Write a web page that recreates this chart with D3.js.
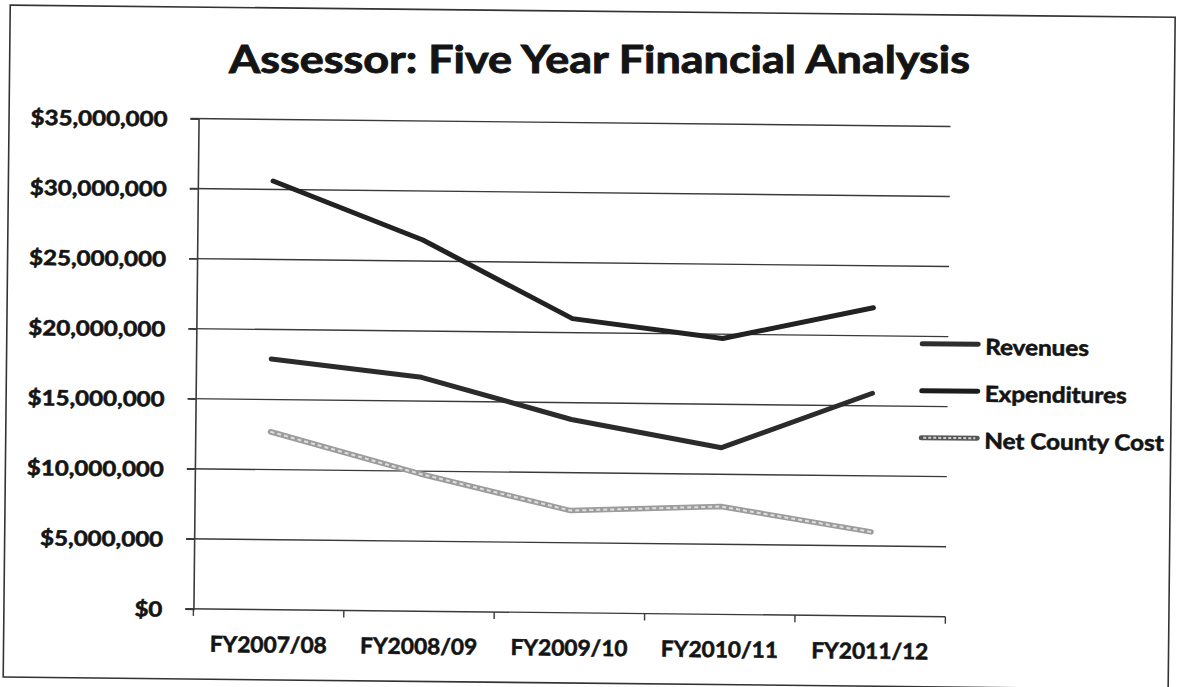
<!DOCTYPE html>
<html>
<head>
<meta charset="utf-8">
<script src="https://cdn.jsdelivr.net/npm/d3@7/dist/d3.min.js"></script>
<style>
  html, body { margin: 0; padding: 0; background: #fff; }
  svg { display: block; }
  text { font-family: "Lato", "Open Sans", sans-serif; font-weight: 700; fill: #141414; stroke: #141414; stroke-width: 0.6px; }
</style>
</head>
<body>
<svg id="chart" width="1177" height="687"></svg>
<script>
// ---- data ----
const title = "Assessor: Five Year Financial Analysis";
const categories = ["FY2007/08", "FY2008/09", "FY2009/10", "FY2010/11", "FY2011/12"];
const revenues = [17900000, 16700000, 13800000, 11900000, 15900000];
const expenditures = [30600000, 26500000, 21000000, 19700000, 22000000];
const netCountyCost = [12700000, 9800000, 7300000, 7700000, 6000000];
const seriesNames = ["Revenues", "Expenditures", "Net County Cost"];
const yTickValues = [0, 5000000, 10000000, 15000000, 20000000, 25000000, 30000000, 35000000];

// ---- layout ----
const W = 1177, H = 687;
const plot = { left: 196, right: 948, top: 122.5, bottom: 612.8 };
const svg = d3.select("#chart");

// frame + plot, slightly rotated like the scanned original
const root = svg.append("g").attr("transform", "rotate(0.6,570,365)");

root.append("rect")
  .attr("x", 6.5).attr("y", 11).attr("width", 1165).attr("height", 672)
  .attr("fill", "none").attr("stroke", "#333").attr("stroke-width", 1.6);

const x = d3.scaleBand().domain(categories).range([plot.left, plot.right]).padding(0);
const y = d3.scaleLinear().domain([0, 35000000]).range([plot.bottom, plot.top]);
const cx = c => x(c) + x.bandwidth() / 2;

// gridlines
root.append("g").selectAll("line").data(yTickValues).join("line")
  .attr("x1", plot.left - 8).attr("x2", plot.right)
  .attr("y1", d => y(d)).attr("y2", d => y(d))
  .attr("stroke", "#3a3a3a").attr("stroke-width", 1.4);

// y axis
const yAxis = root.append("g").attr("transform", `translate(${plot.left},0)`)
  .call(d3.axisLeft(y).tickValues(yTickValues)
    .tickFormat(d => "$" + d3.format(",")(d)).tickSize(8).tickPadding(23));
yAxis.select(".domain").attr("stroke", "#3a3a3a").attr("stroke-width", 1.6);
yAxis.selectAll(".tick line").attr("stroke", "#3a3a3a").attr("stroke-width", 1.4);
const yLabels = yAxis.selectAll(".tick text")
  .attr("font-size", 21).attr("dy", "0.36em").attr("fill", "#141414")
  .style("font-family", "Lato, 'Open Sans', sans-serif").style("font-weight", 700)
  .style("stroke", "#141414").style("stroke-width", "0.6px");

// x axis
const xAxis = root.append("g").attr("transform", `translate(0,${plot.bottom})`)
  .call(d3.axisBottom(x).tickSize(0).tickPadding(27));
xAxis.select(".domain").remove();
const xLabels = xAxis.selectAll(".tick text")
  .attr("font-size", 22).attr("dy", "0.72em").attr("fill", "#141414")
  .style("font-family", "Lato, 'Open Sans', sans-serif").style("font-weight", 700)
  .style("stroke", "#141414").style("stroke-width", "0.6px");
const boundaries = categories.map(c => x(c)).concat([x.range()[1]]);
root.append("g").selectAll("line").data(boundaries).join("line")
  .attr("x1", d => d).attr("x2", d => d)
  .attr("y1", plot.bottom).attr("y2", plot.bottom + 7)
  .attr("stroke", "#3a3a3a").attr("stroke-width", 1.4);

// lines
const line = d3.line().x((d, i) => cx(categories[i])).y(d => y(d));
const g = root.append("g");
g.append("path").datum(netCountyCost).attr("d", line)
  .attr("fill", "none").attr("stroke", "#9c9c9c").attr("stroke-width", 5.5)
  .attr("stroke-linejoin", "round").attr("stroke-linecap", "round");
g.append("path").datum(netCountyCost).attr("d", line)
  .attr("fill", "none").attr("stroke", "#dedede").attr("stroke-width", 2)
  .attr("stroke-dasharray", "4,3");
g.append("path").datum(revenues).attr("d", line)
  .attr("fill", "none").attr("stroke", "#2b2b2b").attr("stroke-width", 5)
  .attr("stroke-linejoin", "round").attr("stroke-linecap", "round");
g.append("path").datum(expenditures).attr("d", line)
  .attr("fill", "none").attr("stroke", "#222").attr("stroke-width", 5)
  .attr("stroke-linejoin", "round").attr("stroke-linecap", "round");

// legend
const legend = root.append("g").attr("transform", "translate(922,340)");
const rowGap = 47;
seriesNames.forEach((name, i) => {
  const row = legend.append("g").attr("transform", `translate(0,${i * rowGap})`);
  if (i === 2) {
    row.append("line").attr("x1", 0).attr("x2", 56).attr("y1", 0).attr("y2", 0)
      .attr("stroke", "#555").attr("stroke-width", 5).attr("stroke-linecap", "round");
    row.append("line").attr("x1", 2).attr("x2", 54).attr("y1", 0).attr("y2", 0)
      .attr("stroke", "#cfcfcf").attr("stroke-width", 2).attr("stroke-dasharray", "3,2");
  } else {
    row.append("line").attr("x1", 0).attr("x2", 56).attr("y1", 0).attr("y2", 0)
      .attr("stroke", i === 0 ? "#2e2e2e" : "#1c1c1c").attr("stroke-width", 5)
      .attr("stroke-linecap", "round");
  }
  row.append("text").attr("class", "leg").attr("x", 63).attr("y", 10.5)
    .attr("font-size", 22).text(name);
});

// title (not rotated)
svg.append("text").attr("x", 229).attr("y", 73).attr("font-size", 38)
  .style("stroke-width", "0.9px")
  .attr("textLength", 741).attr("lengthAdjust", "spacingAndGlyphs").text(title);

// width fitting to match the original glyph widths
function fit(sel, refWidth, refText) {
  let k = 1;
  sel.each(function () { if (this.textContent === refText) k = refWidth / this.getComputedTextLength(); });
  sel.each(function () {
    const w = this.getComputedTextLength();
    d3.select(this).attr("textLength", w * k).attr("lengthAdjust", "spacingAndGlyphs");
  });
}
fit(yLabels, 137, "$35,000,000");
fit(xLabels, 117, "FY2007/08");
fit(legend.selectAll("text.leg"), 142, "Expenditures");
</script>
</body>
</html>
